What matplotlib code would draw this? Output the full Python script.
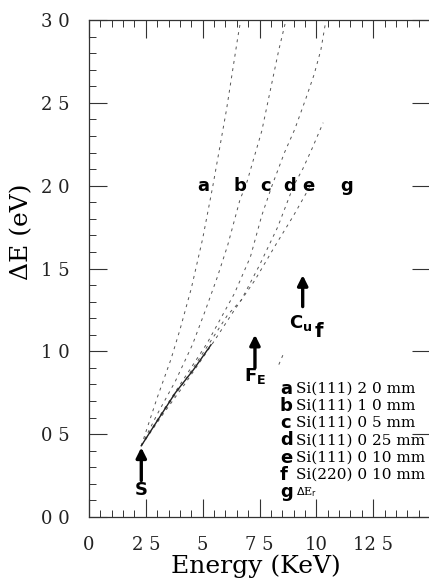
import matplotlib.pyplot as plt
from matplotlib.ticker import MultipleLocator

# curves (energy in keV, delta E in eV)
energy_a = [2.3, 3.0, 3.6, 4.0, 4.5, 5.0, 5.45, 6.05, 6.55, 6.7]
de_a = [0.43, 0.72, 0.95, 1.13, 1.38, 1.68, 2.0, 2.46, 2.9, 3.02]
energy_b = [2.3, 3.0, 3.8, 4.55, 5.1, 5.65, 6.1, 6.65, 6.9, 7.6, 8.35, 8.7]
de_b = [0.43, 0.62, 0.82, 1.04, 1.24, 1.45, 1.64, 1.92, 2.0, 2.33, 2.82, 3.02]
energy_c = [2.3, 3.2, 4.2, 5.2, 5.8, 6.4, 7.1, 7.6, 8.05, 8.6, 9.05, 9.55, 9.9, 10.2, 10.45]
de_c = [0.43, 0.63, 0.84, 1.05, 1.2, 1.35, 1.57, 1.82, 2.0, 2.2, 2.34, 2.53, 2.67, 2.82, 3.02]
energy_d = [2.3, 3.2, 4.2, 5.3, 6.1, 6.7, 7.5, 8.3, 9.0, 9.4, 9.8, 10.3]
de_d = [0.43, 0.62, 0.82, 1.05, 1.22, 1.31, 1.52, 1.75, 2.0, 2.1, 2.22, 2.38]
energy_e = [2.3, 3.2, 4.2, 5.4, 6.4, 7.3, 8.2, 9.0, 9.7]
de_e = [0.43, 0.61, 0.8, 1.04, 1.25, 1.43, 1.64, 1.82, 1.99]
energy_f = [8.35, 8.6]
de_f = [0.92, 1.0]
energy_g = [2.3, 3.0, 3.8, 4.6, 5.37]
de_g = [0.43, 0.58, 0.75, 0.89, 1.04]

curve_letters = ['a', 'b', 'c', 'd', 'e', 'g']
curve_letter_x = [4.76, 6.34, 7.53, 8.55, 9.38, 11.06]

legend_letters = ['a', 'b', 'c', 'd', 'e', 'f', 'g']
legend_texts = ['Si(111) 2 0 mm', 'Si(111) 1 0 mm', 'Si(111) 0 5 mm',
                'Si(111) 0 25 mm', 'Si(111) 0 10 mm', 'Si(220) 0 10 mm',
                r'$\Delta$E$_\mathrm{r}$']

edges = ['S', 'Fe', 'Cu']
edge_x = [2.3, 7.3, 9.4]
edge_head = [0.42, 1.10, 1.46]
edge_tail = [0.22, 0.90, 1.27]

xticks = [0, 2.5, 5, 7.5, 10, 12.5]
xticklabels = ['0', '2 5', '5', '7 5', '10', '12 5']
yticks = [0, 0.5, 1.0, 1.5, 2.0, 2.5, 3.0]
yticklabels = ['0 0', '0 5', '1 0', '1 5', '2 0', '2 5', '3 0']

fig = plt.figure(figsize=(4.29, 5.81), dpi=100)
ax = fig.add_axes([89 / 429, 64 / 581, 341 / 429, 497 / 581])

dash = dict(color='#555555', lw=0.7, ls=(0, (3, 4.5)))
ax.plot(energy_a, de_a, **dash)
ax.plot(energy_b, de_b, **dash)
ax.plot(energy_c, de_c, **dash)
ax.plot(energy_d, de_d, **dash)
ax.plot(energy_e, de_e, **dash)
ax.plot(energy_f, de_f, **dash)
ax.plot(energy_g, de_g, color='#222222', lw=1.0)

ax.set_xlim(0, 15)
ax.set_ylim(0, 3.0)

for s in ax.spines.values():
    s.set_color('#333333')
    s.set_linewidth(0.9)

ax.set_xticks(xticks)
ax.set_xticklabels(xticklabels)
ax.set_yticks(yticks)
ax.set_yticklabels(yticklabels)
ax.xaxis.set_minor_locator(MultipleLocator(0.5))
ax.yaxis.set_minor_locator(MultipleLocator(0.1))
ax.tick_params(which='both', direction='in', top=True, right=True, color='#333333')
ax.tick_params(which='minor', right=False)
ax.tick_params(which='major', length=13, width=0.8, pad=14, labelsize=13)
ax.tick_params(which='minor', length=5, width=0.7)
for lab in ax.get_xticklabels() + ax.get_yticklabels():
    lab.set_family('DejaVu Serif')
    lab.set_color('#222222')

fig.text(22 / 429, 1 - 232 / 581, 'ΔE (eV)', rotation=90, ha='center', va='center',
         family='DejaVu Serif', fontsize=18)
fig.text(256 / 429, 1 - 566 / 581, 'Energy (KeV)', ha='center', va='center',
         family='DejaVu Serif', fontsize=18)

for lt, lx in zip(curve_letters, curve_letter_x):
    ax.text(lx, 2.0, lt, ha='left', va='center', fontsize=13, fontweight='bold',
            family='DejaVu Sans')

arrow = dict(arrowstyle='-|>,head_width=0.3,head_length=0.6', lw=2.4, color='black',
             shrinkA=0, shrinkB=0)
for name, ex, eh, et in zip(edges, edge_x, edge_head, edge_tail):
    ax.annotate('', xy=(ex, eh), xytext=(ex, et), arrowprops=arrow)
ax.text(edge_x[0], 0.16, 'S', ha='center', va='center', fontsize=13, fontweight='bold')
ax.text(edge_x[1], 0.85, 'F$_\\mathbf{E}$', ha='center', va='center', fontsize=13, fontweight='bold')
ax.text(edge_x[2] - 0.1, 1.17, 'C$_\\mathbf{u}$', ha='center', va='center', fontsize=13, fontweight='bold')
ax.text(10.1, 1.12, 'f', ha='center', va='center', fontsize=14, fontweight='bold')

for i, (lt, txt) in enumerate(zip(legend_letters, legend_texts)):
    yy = 0.775 - i * 0.104
    ax.text(8.4, yy, lt, ha='left', va='center', fontsize=13, fontweight='bold')
    ax.text(9.1, yy, txt, ha='left', va='center', fontsize=11 if i < 6 else 8,
            family='DejaVu Serif', clip_on=False)

fig.savefig('out.png', dpi=100)
